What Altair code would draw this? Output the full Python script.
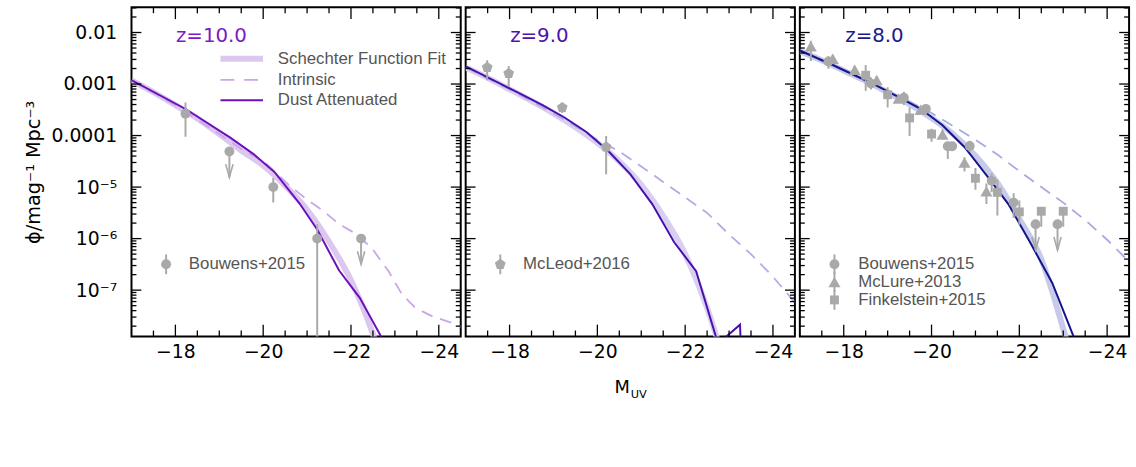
import altair as alt
import pandas as pd

# ------------------------------------------------------------------
# UV luminosity functions: M_UV and phi [mag^-1 Mpc^-3]
# ------------------------------------------------------------------
# z = 10
z10_fit_M = [-17.0, -17.5, -18.0, -18.5, -19.0, -19.5, -20.0, -20.5, -21.0, -21.5, -22.0, -22.5, -23.0]
z10_fit_phi = [1.175e-3, 6.92e-4, 3.89e-4, 2.14e-4, 1.07e-4, 5.13e-5, 2.63e-5, 1.07e-5, 3.63e-6, 8.7e-7, 1.55e-7, 1.41e-8, 6.3e-10]
z10_int_M = [-17.0, -18.0, -19.0, -19.5, -20.04, -20.6, -20.98, -21.35, -21.73, -22.1, -22.48, -22.86, -23.16, -23.46, -23.83, -24.28, -24.6]
z10_int_phi = [1.175e-3, 3.89e-4, 1.07e-4, 5.5e-5, 3.02e-5, 1.07e-5, 5.89e-6, 3.55e-6, 1.91e-6, 1.26e-6, 6.46e-7, 2.29e-7, 8.3e-8, 4.57e-8, 3.16e-8, 2.34e-8, 1.82e-8]
z10_dust_M = [-17.0, -18.24, -19.25, -19.78, -20.27, -20.83, -21.24, -21.73, -22.2, -22.75]
z10_dust_phi = [1.19e-3, 3.24e-4, 9.1e-5, 4.37e-5, 1.91e-5, 4.79e-6, 1.45e-6, 2.4e-7, 7.1e-8, 1.0e-8]

# z = 9
z9_fit_M = [-17.0, -17.5, -18.0, -18.5, -19.0, -19.5, -20.0, -20.5, -21.0, -21.5, -22.0, -22.5, -23.0]
z9_fit_phi = [2.09e-3, 1.32e-3, 7.9e-4, 4.68e-4, 2.69e-4, 1.45e-4, 7.2e-5, 3.16e-5, 1.1e-5, 2.75e-6, 5.0e-7, 4.5e-8, 2.0e-9]
z9_int_M = [-17.0, -18.0, -19.0, -19.5, -20.0, -20.5, -21.0, -21.5, -22.0, -22.5, -23.0, -23.5, -24.0, -24.5, -25.0]
z9_int_phi = [2.09e-3, 7.9e-4, 2.69e-4, 1.51e-4, 8.3e-5, 4.9e-5, 2.51e-5, 1.26e-5, 6.3e-6, 3.16e-6, 1.2e-6, 5.0e-7, 1.82e-7, 5.75e-8, 1.58e-8]
z9_dust_M = [-17.0, -17.75, -18.25, -18.75, -19.25, -19.75, -20.25, -20.75, -21.25, -21.75, -22.25, -22.75, -23.25, -23.75]
z9_dust_phi = [2.19e-3, 1.05e-3, 6.46e-4, 3.89e-4, 2.24e-4, 1.17e-4, 5.0e-5, 1.78e-5, 4.68e-6, 8.5e-7, 2.34e-7, 9.1e-9, 2.14e-8, 1e-20]

# z = 8
z8_fit_M = [-17.0, -17.5, -18.0, -18.5, -19.0, -19.5, -20.0, -20.5, -21.0, -21.5, -22.0, -22.5, -23.0, -23.5]
z8_fit_phi = [4.37e-3, 2.88e-3, 1.82e-3, 1.15e-3, 6.9e-4, 4.07e-4, 2.19e-4, 1.05e-4, 4.07e-5, 1.2e-5, 2.4e-6, 4.0e-7, 1.78e-8, 5.0e-10]
z8_int_M = [-17.0, -18.0, -19.0, -19.5, -20.0, -20.5, -21.0, -21.5, -22.0, -22.5, -23.0, -23.5, -24.0, -24.5, -25.0]
z8_int_phi = [4.37e-3, 1.82e-3, 7.2e-4, 4.57e-4, 2.75e-4, 1.51e-4, 8.3e-5, 4.27e-5, 2.04e-5, 1.0e-5, 5.0e-6, 2.29e-6, 9.5e-7, 3.55e-7, 1.26e-7]
z8_dust_M = [-17.0, -17.75, -18.25, -18.75, -19.25, -19.75, -20.25, -20.75, -21.25, -21.75, -22.25, -22.75, -23.25, -23.75]
z8_dust_phi = [4.47e-3, 2.34e-3, 1.48e-3, 9.3e-4, 5.6e-4, 3.31e-4, 1.58e-4, 6.0e-5, 1.7e-5, 4.68e-6, 8.3e-7, 1.38e-7, 1.17e-8, 3.2e-10]

# ------------------------------------------------------------------
# Observed luminosity functions
# ------------------------------------------------------------------
# Bouwens+2015, z ~ 10
b15z10_M = [-18.23, -20.23, -21.23]
b15z10_phi = [2.66e-4, 1.0e-5, 1.0e-6]
b15z10_hi = [4.37e-4, 1.5e-5, 1.9e-6]
b15z10_lo = [9.5e-5, 5.0e-6, 1e-12]
b15z10_lim_M = [-19.23, -22.23]
b15z10_lim_phi = [4.9e-5, 1.0e-6]

# McLeod+2016, z ~ 9
m16_M = [-17.49, -17.98, -19.2, -20.2]
m16_phi = [2.1e-3, 1.6e-3, 3.5e-4, 6.0e-5]
m16_hi = [2.9e-3, 2.24e-3, 4.3e-4, 9.8e-5]
m16_lo = [1.19e-3, 8.9e-4, 2.75e-4, 1.78e-5]

# Bouwens+2015, z ~ 8
b15z8_M = [-17.65, -18.62, -19.37, -19.87, -20.37, -20.47, -20.87, -21.37, -21.87]
b15z8_phi = [2.75e-3, 1.02e-3, 5.4e-4, 3.3e-4, 6.2e-5, 6.2e-5, 6.3e-5, 1.32e-5, 5.0e-6]
b15z8_hi = [3.47e-3, 1.35e-3, 7.1e-4, 4.0e-4, 7.4e-5, 7.1e-5, 7.9e-5, 1.86e-5, 7.6e-6]
b15z8_lo = [1.99e-3, 7.8e-4, 3.9e-4, 2.6e-4, 3.5e-5, 5.1e-5, 4.8e-5, 7.9e-6, 2.5e-6]
b15z8_lim_M = [-22.37, -22.87]
b15z8_lim_phi = [1.9e-6, 1.9e-6]

# McLure+2013, z ~ 8
m13_M = [-17.25, -17.75, -18.25, -18.75, -19.25, -19.75, -20.25, -20.75, -21.25]
m13_phi = [5.4e-3, 3.1e-3, 1.9e-3, 1.2e-3, 5.25e-4, 3.16e-4, 1.05e-4, 3.0e-5, 8.3e-6]
m13_hi = [6.9e-3, 3.7e-3, 2.24e-3, 1.41e-3, 6.2e-4, 3.6e-4, 1.3e-4, 3.8e-5, 1.17e-5]
m13_lo = [2.8e-3, 2.6e-3, 1.62e-3, 1.02e-3, 4.5e-4, 2.75e-4, 8.5e-5, 2.0e-5, 4.7e-6]

# Finkelstein+2015, z ~ 8
f15_M = [-18.5, -19.0, -19.5, -20.0, -21.0, -21.5, -22.0]
f15_phi = [1.48e-3, 6.2e-4, 2.2e-4, 1.07e-4, 1.48e-5, 7.9e-6, 3.3e-6]
f15_hi = [2.34e-3, 8.7e-4, 3.5e-4, 1.35e-4, 2.34e-5, 1.4e-5, 5.5e-6]
f15_lo = [7.4e-4, 3.5e-4, 9.8e-5, 7.6e-5, 8.9e-6, 2.8e-6, 1.86e-6]
f15_lim_M = [-22.5, -23.0]
f15_lim_phi = [3.4e-6, 3.4e-6]

# axis ticks
x_label_values = [-18, -20, -22, -24]
y_label_values = [1e-2, 1e-3, 1e-4, 1e-5, 1e-6, 1e-7]

# ------------------------------------------------------------------
W, H = 333, 333
X_DOM = [-17.0, -24.5]
Y_DOM = [1.26e-8, 3.09e-2]
FONT = "DejaVu Sans"
LFONT = "Liberation Sans"
GRAY = "#a9a9a9"
TXT = "#555555"

PENTAGON = "M0,-1L0.951,-0.309L0.588,0.809L-0.588,0.809L-0.951,-0.309Z"
ARROWHEAD = "M-0.28,-1L0,0L0.28,-1"

X_AXIS = alt.Axis(values=x_label_values, labelExpr="'\u2212' + abs(datum.value)",
                  ticks=False, domain=False, grid=False, labelFont=FONT,
                  labelFontSize=19, labelColor="black", labelPadding=6,
                  labelFlush=False, title=None)
Y_LABELS = ("datum.value > 0.005 ? '0.01' : datum.value > 0.0005 ? '0.001' : "
            "datum.value > 0.00005 ? '0.0001' : datum.value > 0.000005 ? '10\u207b\u2075' : "
            "datum.value > 0.0000005 ? '10\u207b\u2076' : '10\u207b\u2077'")
Y_AXIS = alt.Axis(values=y_label_values, labelExpr=Y_LABELS, ticks=False, domain=False,
                  grid=False, labelFont=FONT, labelFontSize=19, labelColor="black",
                  labelPadding=15, title="\u03d5/mag\u207b\u00b9 Mpc\u207b\u00b3",
                  titleFont=FONT, titleFontSize=19.5, titleFontWeight="normal",
                  titleColor="black", titlePadding=8)


def xs():
    return alt.Scale(domain=X_DOM, nice=False, zero=False)


def ys():
    return alt.Scale(type="log", domain=Y_DOM, nice=False)


def X(field):
    return alt.X(f"{field}:Q", scale=xs(), axis=X_AXIS)


def Y(field, first):
    return alt.Y(f"{field}:Q", scale=ys(), axis=Y_AXIS if first else None)


def tick_layers(first):
    # inward ticks on all four sides of a panel
    y_minor = []
    for e in range(-8, -1):
        for k in range(2, 10):
            v = k * 10.0 ** e
            if Y_DOM[0] <= v <= Y_DOM[1]:
                y_minor.append(v)
    x_all = [-17.5 - 0.5 * i for i in range(14)]
    x_major = [v for v in x_all if v in x_label_values]
    x_minor = [v for v in x_all if v not in x_label_values]
    out = []
    for vals, L in ((y_label_values, 10), (y_minor, 5)):
        d = pd.DataFrame({"phi": vals})
        base = alt.Chart(d).mark_rule(color="black", strokeWidth=1.3)
        out.append(base.encode(y=Y("phi", first), x=alt.value(0), x2=alt.value(L)))
        out.append(base.encode(y=Y("phi", first), x=alt.value(W), x2=alt.value(W - L)))
    for vals, L in ((x_major, 12), (x_minor, 6)):
        d = pd.DataFrame({"M": vals})
        base = alt.Chart(d).mark_rule(color="black", strokeWidth=1.3)
        out.append(base.encode(x=X("M"), y=alt.value(0), y2=alt.value(L)))
        out.append(base.encode(x=X("M"), y=alt.value(H), y2=alt.value(H - L)))
    return out


def survey_layers(M, phi, hi, lo, shape, size, first):
    d = pd.DataFrame({"M": M, "phi": phi, "hi": hi, "lo": lo})
    bars = alt.Chart(d).mark_rule(color=GRAY, strokeWidth=2, clip=True).encode(
        x=X("M"), y=Y("lo", first), y2=alt.Y2("hi:Q"))
    pts = alt.Chart(d).mark_point(shape=shape, size=size, filled=True, color=GRAY,
                                  opacity=1, strokeWidth=0).encode(x=X("M"), y=Y("phi", first))
    return [bars, pts]


def limit_layers(M, phi, shape, size, first, head=True, drop=0.5):
    d = pd.DataFrame({"M": M, "phi": phi})
    d["tip"] = d["phi"] * 10 ** (-drop)
    out = [alt.Chart(d).mark_rule(color=GRAY, strokeWidth=2, clip=True).encode(
        x=X("M"), y=Y("phi", first), y2=alt.Y2("tip:Q"))]
    if head:
        out.append(alt.Chart(d).mark_point(shape=ARROWHEAD, size=700, filled=False, color=GRAY,
                                           opacity=1, strokeWidth=1.6).encode(
            x=X("M"), y=Y("tip", first)))
    out.append(alt.Chart(d).mark_point(shape=shape, size=size, filled=True, color=GRAY,
                                       opacity=1, strokeWidth=0).encode(x=X("M"), y=Y("phi", first)))
    return out


def model_layers(cfg, first):
    fit = pd.DataFrame({"M": cfg["fit_M"], "phi": cfg["fit_phi"]})
    intr = pd.DataFrame({"M": cfg["int_M"], "phi": cfg["int_phi"]})
    dust = pd.DataFrame({"M": cfg["dust_M"], "phi": cfg["dust_phi"]})
    return [
        alt.Chart(fit).mark_line(color=cfg["fit_c"], strokeWidth=6, clip=True,
                                 interpolate="monotone").encode(x=X("M"), y=Y("phi", first)),
        alt.Chart(intr).mark_line(color=cfg["int_c"], strokeWidth=1.8, strokeDash=[12, 8],
                                  clip=True).encode(x=X("M"), y=Y("phi", first)),
        alt.Chart(dust).mark_line(color=cfg["dust_c"], strokeWidth=2, clip=True).encode(
            x=X("M"), y=Y("phi", first)),
    ]


ONE = pd.DataFrame({"a": [0]})


def label(text, x, y, size=17, color=TXT, font=LFONT, align="left", baseline="middle"):
    return alt.Chart(ONE).mark_text(text=text, font=font, fontSize=size, color=color,
                                    align=align, baseline=baseline).encode(
        x=alt.value(x), y=alt.value(y))


def legend_symbol(shape, size, x, y):
    return [
        alt.Chart(ONE).mark_rule(color=GRAY, strokeWidth=2).encode(
            x=alt.value(x), y=alt.value(y - 10), y2=alt.value(y + 10)),
        alt.Chart(ONE).mark_point(shape=shape, size=size, filled=True, color=GRAY, opacity=1,
                                  strokeWidth=0).encode(x=alt.value(x), y=alt.value(y)),
    ]


def legend_line(color, width, y, dash=None):
    kw = dict(color=color, strokeWidth=width)
    if dash:
        kw["strokeDash"] = dash
    return alt.Chart(ONE).mark_rule(**kw).encode(x=alt.value(90), x2=alt.value(133), y=alt.value(y))


# ---------------- panel z = 10 ----------------
cfg10 = dict(fit_M=z10_fit_M, fit_phi=z10_fit_phi, int_M=z10_int_M, int_phi=z10_int_phi,
             dust_M=z10_dust_M, dust_phi=z10_dust_phi,
             fit_c="#dcc8ee", int_c="#c9a6e6", dust_c="#6c10bc")
L1 = model_layers(cfg10, True)
L1 += survey_layers(b15z10_M, b15z10_phi, b15z10_hi, b15z10_lo, "circle", 100, True)
L1 += limit_layers(b15z10_lim_M, b15z10_lim_phi, "circle", 100, True)
L1 += tick_layers(True)
L1 += [label("z=10.0", 45, 35, size=20, color="#7a1cc4", font=FONT, baseline="alphabetic")]
L1 += [legend_line(cfg10["fit_c"], 6, 52), legend_line(cfg10["int_c"], 1.8, 73.5, [14, 10]),
       legend_line(cfg10["dust_c"], 2, 94)]
L1 += [label("Schechter Function Fit", 148, 52), label("Intrinsic", 148, 73.5),
       label("Dust Attenuated", 148, 94)]
L1 += legend_symbol("circle", 100, 35, 260) + [label("Bouwens+2015", 58, 260)]
p1 = alt.layer(*L1).properties(width=W, height=H)

# ---------------- panel z = 9 ----------------
cfg9 = dict(fit_M=z9_fit_M, fit_phi=z9_fit_phi, int_M=z9_int_M, int_phi=z9_int_phi,
            dust_M=z9_dust_M, dust_phi=z9_dust_phi,
            fit_c="#d8d0f0", int_c="#b9a8e6", dust_c="#4a10ae")
L2 = model_layers(cfg9, False)
L2 += survey_layers(m16_M, m16_phi, m16_hi, m16_lo, PENTAGON, 130, False)
L2 += tick_layers(False)
L2 += [label("z=9.0", 45, 35, size=20, color="#4a14b0", font=FONT, baseline="alphabetic")]
L2 += legend_symbol(PENTAGON, 130, 35, 260) + [label("McLeod+2016", 58, 260)]
# x-axis title M_UV, centred under the middle panel
L2 += [label("M", 166, 390, size=18, color="black", font=FONT, align="right", baseline="alphabetic"),
       label("UV", 167, 395, size=11.5, color="black", font=FONT, align="left", baseline="alphabetic")]
p2 = alt.layer(*L2).properties(width=W, height=H)

# ---------------- panel z = 8 ----------------
cfg8 = dict(fit_M=z8_fit_M, fit_phi=z8_fit_phi, int_M=z8_int_M, int_phi=z8_int_phi,
            dust_M=z8_dust_M, dust_phi=z8_dust_phi,
            fit_c="#c8caea", int_c="#a9a9e2", dust_c="#14148c")
L3 = model_layers(cfg8, False)
L3 += survey_layers(f15_M, f15_phi, f15_hi, f15_lo, "square", 81, False)
L3 += limit_layers(f15_lim_M, f15_lim_phi, "square", 81, False, head=False, drop=0.3)
L3 += survey_layers(m13_M, m13_phi, m13_hi, m13_lo, "triangle-up", 150, False)
L3 += survey_layers(b15z8_M, b15z8_phi, b15z8_hi, b15z8_lo, "circle", 100, False)
L3 += limit_layers(b15z8_lim_M, b15z8_lim_phi, "circle", 100, False)
L3 += tick_layers(False)
L3 += [label("z=8.0", 46, 35, size=20, color="#1a1a90", font=FONT, baseline="alphabetic")]
L3 += legend_symbol("circle", 100, 35, 260) + [label("Bouwens+2015", 59, 260)]
L3 += legend_symbol("triangle-up", 150, 35, 278) + [label("McLure+2013", 59, 278)]
L3 += legend_symbol("square", 81, 35, 296) + [label("Finkelstein+2015", 59, 296)]
p3 = alt.layer(*L3).properties(width=W, height=H)

chart = (
    alt.hconcat(p1, p2, p3, spacing=1)
    .properties(padding={"left": 22, "top": 3, "right": 5, "bottom": 5}, background="white")
    .configure_view(stroke="black", strokeWidth=2)
)

chart.save("out.html", embed_options={"renderer": "svg", "actions": False})
